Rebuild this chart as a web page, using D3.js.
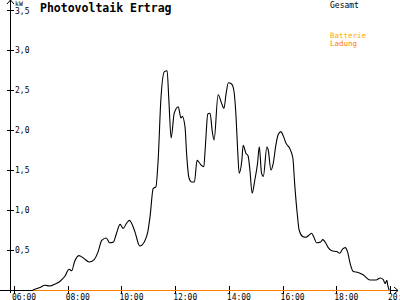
<!DOCTYPE html>
<html>
<head>
<meta charset="utf-8">
<script src="https://cdn.jsdelivr.net/npm/d3@7"></script>
<style>
    body { margin: 0; background: #fff; }
    text { font-family: "DejaVu Sans Mono", "Liberation Mono", monospace; }
</style>
</head>
<body>
<svg width="400" height="300"></svg>
<script>
// Gesamt-Leistung in kW
var times = ["06:42","06:58","07:09","07:20","07:32","07:43","07:54","08:03","08:09","08:15",
    "08:25","08:35","08:48","08:59","09:08","09:16","09:26","09:34","09:42","09:49",
    "09:57","10:04","10:12","10:18","10:23","10:30","10:41","10:51","10:59","11:04",
    "11:11","11:17","11:22","11:28","11:36","11:42","11:46","11:51","11:58","12:07",
    "12:13","12:16","12:22","12:26","12:31","12:37","12:43","12:49","12:53","12:58",
    "13:04","13:07","13:13","13:18","13:23","13:27","13:36","13:44","13:49","13:54",
    "13:59","14:06","14:11","14:16","14:20","14:23","14:29","14:32","14:38","14:43",
    "14:47","14:52","14:58","15:04","15:08","15:13","15:17","15:25","15:28","15:34",
    "15:39","15:45","15:50","15:56","16:02","16:08","16:15","16:23","16:27","16:33",
    "16:37","16:45","16:52","17:00","17:05","17:10","17:16","17:25","17:30","17:35",
    "17:42","17:50","18:01","18:08","18:14","18:20","18:25","18:31","18:38","18:49",
    "19:00","19:15","19:29","19:38","19:45","19:49","19:53","19:55","19:58"];
var gesamt = [0.00,0.03,0.06,0.05,0.075,0.11,0.175,0.26,0.24,0.35,
    0.43,0.40,0.35,0.38,0.48,0.62,0.65,0.59,0.60,0.71,
    0.82,0.77,0.84,0.87,0.83,0.73,0.55,0.60,0.73,0.92,
    1.27,1.29,1.62,2.37,2.73,2.74,2.37,1.90,2.21,2.29,
    2.15,2.17,2.04,1.67,1.40,1.35,1.35,1.62,1.60,1.56,
    1.54,1.75,2.20,2.21,1.98,1.875,2.44,2.33,2.27,2.46,
    2.59,2.575,2.50,2.17,1.71,1.46,1.62,1.81,1.71,1.675,
    1.50,1.21,1.375,1.58,1.79,1.46,1.42,1.79,1.75,1.50,
    1.58,1.81,1.94,1.98,1.92,1.83,1.78,1.65,1.33,0.94,
    0.75,0.67,0.66,0.69,0.71,0.66,0.59,0.60,0.63,0.60,
    0.53,0.49,0.48,0.46,0.51,0.53,0.48,0.33,0.23,0.22,
    0.19,0.125,0.125,0.15,0.13,0.08,0.12,0.06,0.00];

// Batterie / Ladung (beide 0)
var battTimes = ["06:42","20:00"];
var batterie = [0, 0];
var ladung = [0, 0];

var xTicks = ["06:00","08:00","10:00","12:00","14:00","16:00","18:00","20:00"];
var yTicks = [0.5, 1.0, 1.5, 2.0, 2.5, 3.0, 3.5];

var parse = d3.timeParse("%H:%M");
var svg = d3.select("svg");

var x = d3.scaleTime()
    .domain([parse("06:00"), parse("20:00")])
    .range([14, 390]);
var y = d3.scaleLinear()
    .domain([0, 3.5])
    .range([290, 10]);

var fmt = d => d3.format(".1f")(d).replace(".", ",");

// axes
var axes = svg.append("g").attr("stroke", "#000").attr("shape-rendering", "crispEdges");
axes.append("line").attr("x1", 10.5).attr("x2", 10.5).attr("y1", 293).attr("y2", 0);
axes.append("line").attr("x1", 0).attr("x2", 398).attr("y1", 290.5).attr("y2", 290.5);
svg.append("path").attr("d", "M7,4 L10.5,0 L14,4").attr("fill", "none").attr("stroke", "#000");
svg.append("path").attr("d", "M394,287 L398,290.5 L394,294").attr("fill", "none").attr("stroke", "#000");

// y ticks
var yg = svg.append("g");
yg.selectAll("line").data(yTicks).enter().append("line")
    .attr("x1", 7).attr("x2", 14)
    .attr("y1", d => Math.round(y(d)) + 0.5)
    .attr("y2", d => Math.round(y(d)) + 0.5)
    .attr("stroke", "#000").attr("shape-rendering", "crispEdges");
yg.selectAll("text").data(yTicks).enter().append("text")
    .attr("x", 15)
    .attr("y", d => y(d) + (d == 3.5 ? 3.5 : 3))
    .attr("font-size", 8)
    .text(fmt);
svg.append("text").attr("x", 15).attr("y", 5.5).attr("font-size", 6.5).text("kW");

// x ticks
var xg = svg.append("g");
xg.selectAll("line").data(xTicks).enter().append("line")
    .attr("x1", d => Math.round(x(parse(d))) + 0.5)
    .attr("x2", d => Math.round(x(parse(d))) + 0.5)
    .attr("y1", 286).attr("y2", 294)
    .attr("stroke", "#000").attr("shape-rendering", "crispEdges");
xg.selectAll("text").data(xTicks).enter().append("text")
    .attr("x", d => x(parse(d)) - 2)
    .attr("y", 299.5)
    .attr("font-size", 8)
    .text(d => d);

// battery lines
var lineB = d3.line().x((d, i) => x(parse(battTimes[i]))).y(d => Math.round(y(d)) + 0.5);
svg.append("path").attr("d", lineB(batterie))
    .attr("fill", "none").attr("stroke", "#ffaa00").attr("shape-rendering", "crispEdges");
svg.append("path").attr("d", lineB(ladung))
    .attr("fill", "none").attr("stroke", "#ff8000").attr("shape-rendering", "crispEdges");

// gesamt line
var line = d3.line()
    .x((d, i) => x(parse(times[i])))
    .y(d => y(d))
    .curve(d3.curveMonotoneX);
svg.append("path").attr("d", line(gesamt))
    .attr("fill", "none").attr("stroke", "#000").attr("stroke-width", 1.1);

// title and legend
svg.append("text").attr("x", 40).attr("y", 11.5)
    .attr("font-size", 11.5).attr("font-weight", "bold")
    .text("Photovoltaik Ertrag");
svg.append("text").attr("x", 330).attr("y", 7.5).attr("font-size", 8).attr("fill", "#000").text("Gesamt");
svg.append("text").attr("x", 330).attr("y", 38).attr("font-size", 7.5).attr("fill", "#ffaa00").text("Batterie");
svg.append("text").attr("x", 330).attr("y", 46).attr("font-size", 7.5).attr("fill", "#ff8000").text("Ladung");
</script>
</body>
</html>
